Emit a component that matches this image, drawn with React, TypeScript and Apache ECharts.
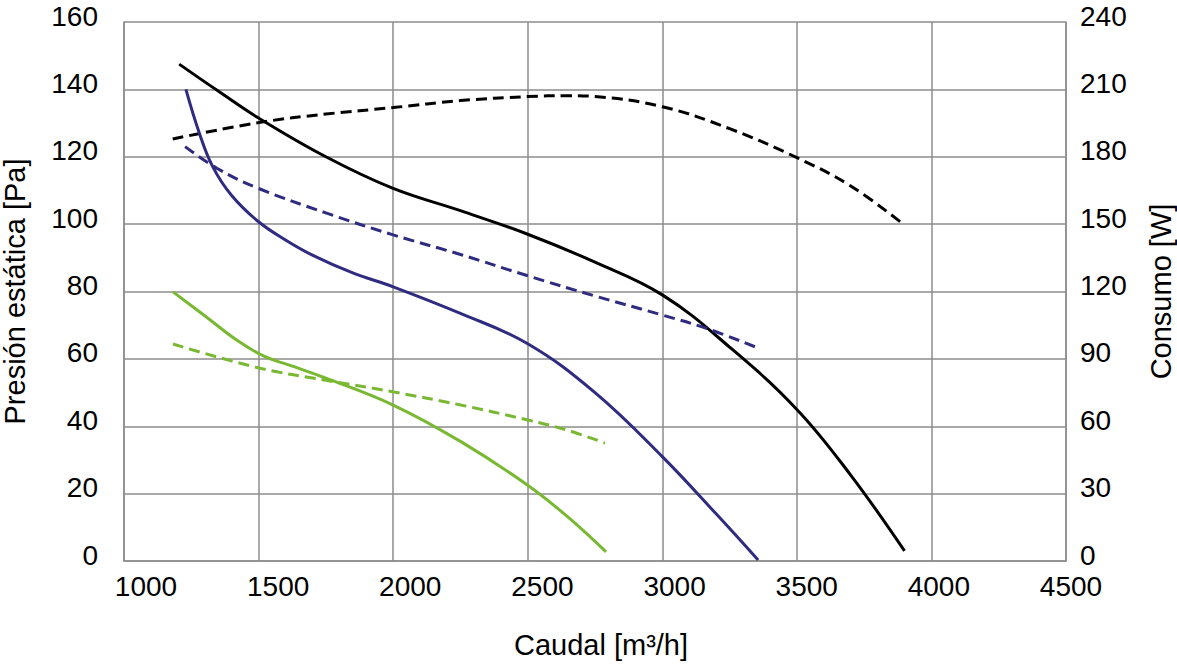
import React, { useEffect, useRef } from "react";
import * as echarts from "echarts";

// Flow values [m3/h] and readings (left axis: Pa, right axis: W)
const blackPressureX = [1205, 1350, 1500, 1750, 2000, 2250, 2500, 2750, 3000, 3250, 3500, 3700, 3900];
const blackPressureY = [147.5, 139.5, 131.5, 120, 110.6, 104, 97, 88.7, 79, 63.5, 45, 25.5, 3];

const blackPowerX = [1181, 1500, 1750, 2000, 2250, 2500, 2650, 2750, 3000, 3250, 3500, 3700, 3896];
const blackPowerY = [187.9, 195.2, 199, 201.9, 205, 206.8, 207.2, 206.8, 202.3, 192.5, 179.6, 167, 149.9];

const navyPressureX = [1230, 1280, 1330, 1400, 1500, 1600, 1700, 1850, 2000, 2250, 2500, 2750, 3000, 3200, 3356];
const navyPressureY = [140, 127, 117, 108.5, 100.7, 95.3, 90.8, 85.5, 81.4, 73.5, 64.5, 50, 31, 14, 0.3];

const navyPowerX = [1227, 1345, 1500, 1750, 2000, 2250, 2500, 2750, 3000, 3164, 3344];
const navyPowerY = [184.5, 174.9, 165.9, 155, 145.2, 136.5, 127, 118, 109.5, 103.6, 95.4];

const greenPressureX = [1182, 1300, 1420, 1520, 1620, 1750, 2000, 2250, 2500, 2650, 2791];
const greenPressureY = [79.9, 72.8, 65.5, 60.8, 58, 54.3, 46.3, 35.5, 22.5, 13, 2.7];

const greenPowerX = [1182, 1500, 1750, 2000, 2250, 2500, 2646, 2787];
const greenPowerY = [96.6, 86, 80.5, 75.3, 69.5, 62.8, 58.3, 52.5];

const xTicks = [1000, 1500, 2000, 2500, 3000, 3500, 4000, 4500];

const xTitle = "Caudal [m³/h]";
const leftTitle = "Presión estática [Pa]";
const rightTitle = "Consumo [W]";

const BLACK = "#000000";
const NAVY = "#2f2b80";
const GREEN = "#79b832";
const GRID = "#8c8c8c";
const FONT = "'Liberation Sans', Arial, sans-serif";

const zip = (xs: number[], ys: number[]) => xs.map((x, i) => [x, ys[i]]);

// per-label horizontal shift of the x tick labels (px)
const xLabelShift = [22, 19.6, 17.1, 14.7, 12.3, 9.9, 7.4, 5];

export default function App() {
  const ref = useRef<HTMLDivElement>(null);
  useEffect(() => {
    document.body.style.margin = "0";
    if (!ref.current) return;
    const chart = echarts.init(ref.current, undefined, { renderer: "svg" });
    const rich: Record<string, any> = {};
    xTicks.forEach((_, i) => {
      rich["l" + i] = {
        fontSize: 28,
        fontFamily: FONT,
        color: "#000",
        padding: [0, 0, 0, xLabelShift[i] * 2],
      };
    });
    const solid = (color: string) => ({ width: 3, color, type: "solid" as const });
    const dashed = (color: string) => ({ width: 3, color, type: [11, 6] as any });
    const base = {
      type: "line" as const,
      smooth: 0.4,
      showSymbol: false,
      symbol: "none",
      silent: true,
    };
    const yLabel = {
      fontSize: 28,
      fontFamily: FONT,
      color: "#000",
      verticalAlign: "bottom" as const,
      lineHeight: 12,
    };
    chart.setOption({
      animation: false,
      backgroundColor: "#ffffff",
      grid: {
        left: 124,
        right: 111,
        top: 22,
        bottom: 106,
        containLabel: false,
        outerBoundsMode: "none",
      },
      xAxis: {
        type: "value",
        min: 1000,
        max: 4500,
        interval: 500,
        name: xTitle,
        nameLocation: "middle",
        nameGap: 69,
        nameTextStyle: { fontSize: 29, fontFamily: FONT, color: "#000", padding: [0, 0, 0, 12] },
        axisLine: { show: true, lineStyle: { color: GRID, width: 1.5 } },
        axisTick: { show: false },
        axisLabel: {
          margin: 11,
          fontSize: 28,
          fontFamily: FONT,
          color: "#000",
          formatter: (v: number) => {
            const i = xTicks.indexOf(v);
            return i >= 0 ? `{l${i}|${v}}` : String(v);
          },
          rich,
        },
        splitLine: { show: true, lineStyle: { color: GRID, width: 1.5 } },
      },
      yAxis: [
        {
          type: "value",
          min: 0,
          max: 160,
          interval: 20,
          position: "left",
          name: leftTitle,
          nameLocation: "middle",
          nameGap: 95,
          nameTextStyle: { fontSize: 29, fontFamily: FONT, color: "#000" },
          axisLine: { show: true, lineStyle: { color: GRID, width: 1.5 } },
          axisTick: { show: false },
          axisLabel: { ...yLabel, margin: 26 },
          splitLine: { show: true, lineStyle: { color: GRID, width: 1.5 } },
        },
        {
          type: "value",
          min: 0,
          max: 240,
          interval: 30,
          position: "right",
          name: rightTitle,
          nameLocation: "middle",
          nameGap: 80,
          nameTextStyle: { fontSize: 29, fontFamily: FONT, color: "#000" },
          axisLine: { show: true, lineStyle: { color: GRID, width: 1.5 } },
          axisTick: { show: false },
          axisLabel: { ...yLabel, margin: 14 },
          splitLine: { show: false },
        },
      ],
      series: [
        { ...base, name: "P negro", yAxisIndex: 0, data: zip(blackPressureX, blackPressureY), lineStyle: solid(BLACK), itemStyle: { color: BLACK } },
        { ...base, name: "W negro", yAxisIndex: 1, data: zip(blackPowerX, blackPowerY), lineStyle: dashed(BLACK), itemStyle: { color: BLACK } },
        { ...base, name: "P azul", yAxisIndex: 0, data: zip(navyPressureX, navyPressureY), lineStyle: solid(NAVY), itemStyle: { color: NAVY } },
        { ...base, name: "W azul", yAxisIndex: 1, data: zip(navyPowerX, navyPowerY), lineStyle: dashed(NAVY), itemStyle: { color: NAVY } },
        { ...base, name: "P verde", yAxisIndex: 0, data: zip(greenPressureX, greenPressureY), lineStyle: solid(GREEN), itemStyle: { color: GREEN } },
        { ...base, name: "W verde", yAxisIndex: 1, data: zip(greenPowerX, greenPowerY), lineStyle: dashed(GREEN), itemStyle: { color: GREEN } },
      ],
    });
    return () => chart.dispose();
  }, []);
  return <div ref={ref} style={{ width: 1177, height: 667 }} />;
}
